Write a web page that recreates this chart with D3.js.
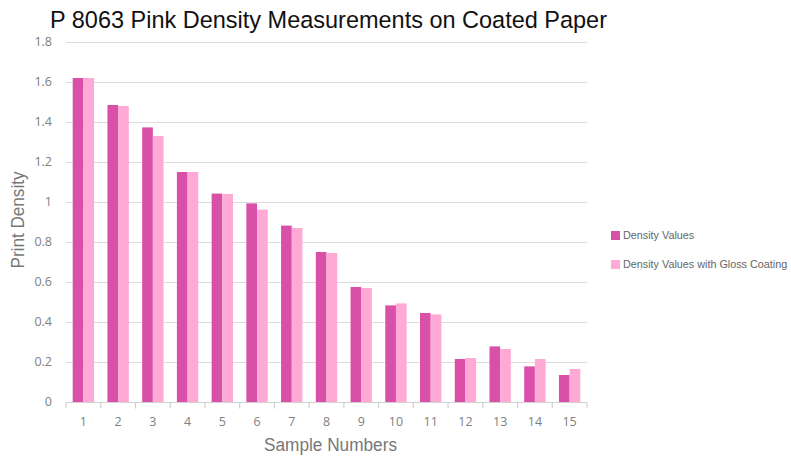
<!DOCTYPE html>
<html><head><meta charset="utf-8">
<script src="https://cdn.jsdelivr.net/npm/d3@7"></script>
<style>body{margin:0;background:#fff}</style>
</head><body>
<svg id="c" width="791" height="457"></svg>
<script>
const categories = ["1","2","3","4","5","6","7","8","9","10","11","12","13","14","15"];
const densityValues = [1.62,1.485,1.373,1.15,1.042,0.993,0.882,0.75,0.575,0.483,0.445,0.215,0.278,0.178,0.135];
const glossValues =   [1.62,1.48,1.33,1.15,1.04,0.962,0.87,0.745,0.57,0.493,0.438,0.22,0.265,0.215,0.165];
const seriesNames = ["Density Values","Density Values with Gloss Coating"];
const colors = ["#d850a8","#ffaad5"];
const yTicks = [0,0.2,0.4,0.6,0.8,1,1.2,1.4,1.6,1.8];

const svg = d3.select("#c");
const m = {l:66, r:587, t:42, b:402};
const x = d3.scaleBand().domain(categories).range([m.l, m.r]).paddingInner(0.385).paddingOuter(0.193);
const x1 = d3.scaleBand().domain([0,1]).range([0, x.bandwidth()]);
const y = d3.scaleLinear().domain([0,1.8]).range([m.b, m.t]);

// gridlines
svg.append("g").selectAll("line").data(yTicks.filter(d=>d>0)).join("line")
  .attr("x1", m.l).attr("x2", m.r).attr("y1", d=>y(d)+0.5).attr("y2", d=>y(d)+0.5)
  .attr("stroke","#dcdcdc").attr("stroke-width",1.2);

// y tick labels
svg.append("g").selectAll("text").data(yTicks).join("text")
  .attr("x", 52).attr("y", d=>y(d)).attr("dy","0.35em").attr("text-anchor","end")
  .attr("font-family","Open Sans, sans-serif").attr("font-size",12.5).attr("fill","#808080")
  .text(d=>d);

// bars
const data = categories.map((c,i)=>({c, v:[densityValues[i], glossValues[i]]}));
const g = svg.append("g");
data.forEach(d=>{
  d.v.forEach((v,j)=>{
    g.append("rect").attr("x", x(d.c)+x1(j)).attr("width", x1.bandwidth())
      .attr("y", y(v)).attr("height", y(0)-y(v)).attr("fill", colors[j]);
  });
});

// x axis
const xa = svg.append("g").attr("transform",`translate(0,${m.b+0.5})`);
xa.append("line").attr("x1",m.l).attr("x2",m.r).attr("stroke","#d0d0d0").attr("stroke-width",1.2);
const bounds = d3.range(categories.length+1).map(i=>m.l+i*((m.r-m.l)/categories.length));
xa.selectAll(".tk").data(bounds).join("line").attr("class","tk")
  .attr("x1",d=>d).attr("x2",d=>d).attr("y1",0).attr("y2",6).attr("stroke","#d0d0d0").attr("stroke-width",1.2);
xa.selectAll("text").data(categories).join("text")
  .attr("x", d=>x(d)+x.bandwidth()/2).attr("y", 23).attr("text-anchor","middle")
  .attr("font-family","Open Sans, sans-serif").attr("font-size",12.5).attr("fill","#808080").text(d=>d);

// titles
svg.append("text").attr("x",50).attr("y",28).attr("font-family","Liberation Sans, Arial, sans-serif")
  .attr("font-size",24.5).attr("fill","#111")
  .attr("textLength",557).attr("lengthAdjust","spacingAndGlyphs")
  .text("P 8063 Pink Density Measurements on Coated Paper");
svg.append("text").attr("x",330.5).attr("y",451).attr("text-anchor","middle")
  .attr("font-family","Liberation Sans, Arial, sans-serif").attr("font-size",18).attr("fill","#777")
  .attr("textLength",133).attr("lengthAdjust","spacingAndGlyphs")
  .text("Sample Numbers");
svg.append("text").attr("transform","translate(24,220) rotate(-90)").attr("text-anchor","middle")
  .attr("font-family","Liberation Sans, Arial, sans-serif").attr("font-size",18).attr("fill","#777")
  .attr("textLength",97).attr("lengthAdjust","spacingAndGlyphs")
  .text("Print Density");

// legend
const lg = svg.append("g");
seriesNames.forEach((n,i)=>{
  const yy = 231 + i*29;
  lg.append("rect").attr("x",611).attr("y",yy).attr("width",9).attr("height",9).attr("fill",colors[i]);
  lg.append("text").attr("x",623).attr("y",yy+4.5).attr("dy","0.35em")
    .attr("font-family","Liberation Sans, Arial, sans-serif").attr("font-size",10.8).attr("fill","#666").text(n);
});
</script>
</body></html>
